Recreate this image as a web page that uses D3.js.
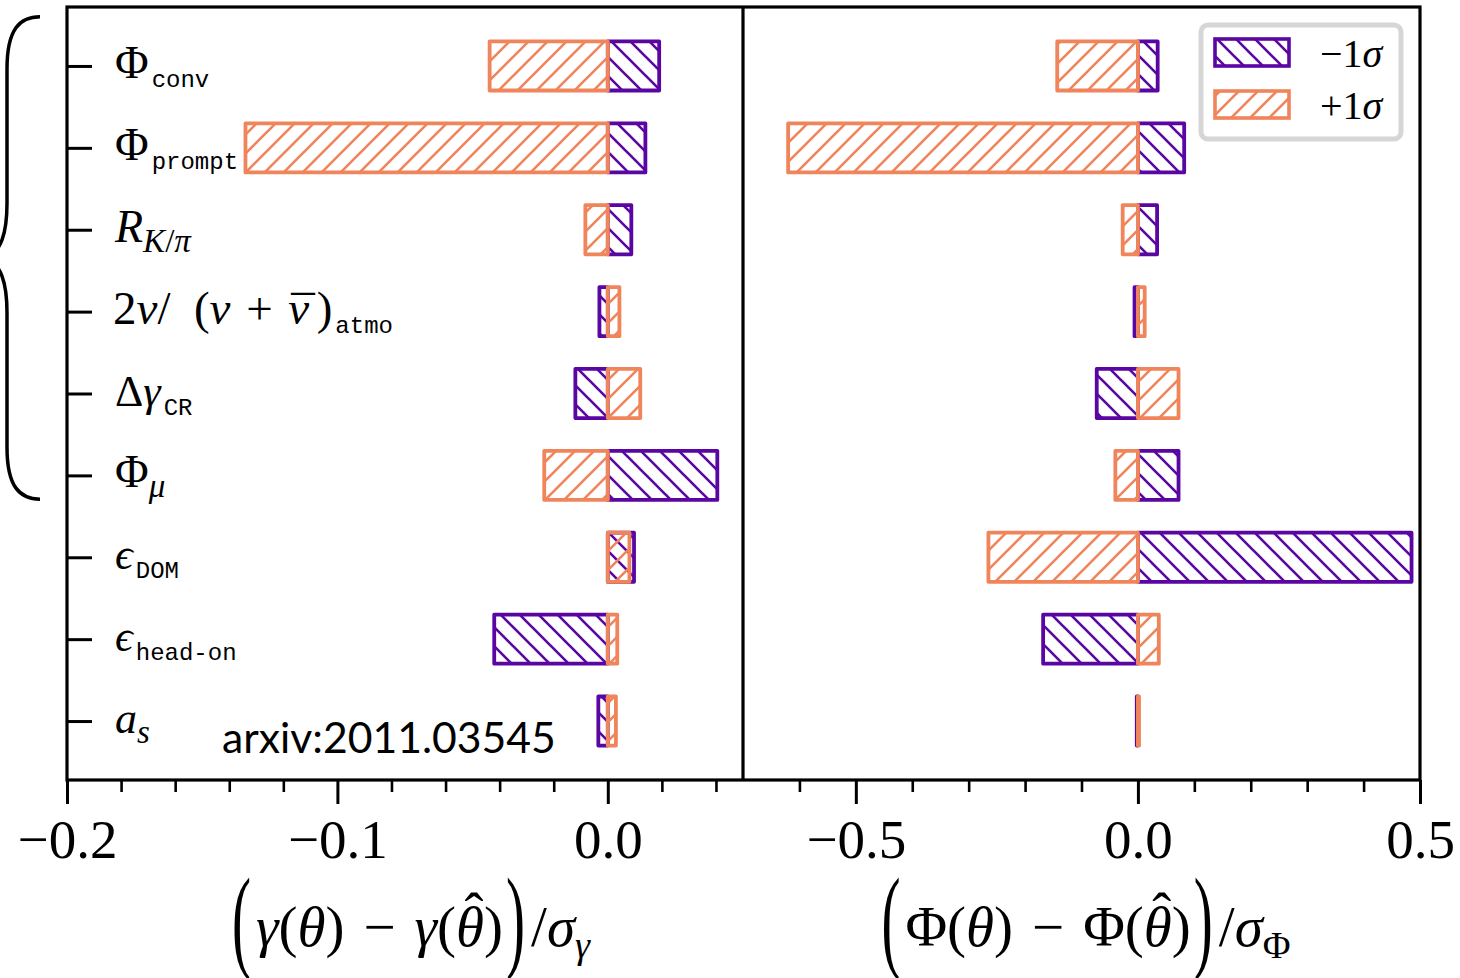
<!DOCTYPE html>
<html>
<head>
<meta charset="utf-8">
<script src="https://cdn.jsdelivr.net/npm/d3@7"></script>
<style>
  body { margin: 0; background: #fff; }
</style>
</head>
<body>
<div id="here"></div>
<script>
// nuisance parameters, "main|subscript"  ("~" marks a bar over the previous glyph)
var categories = ["Φ|conv", "Φ|prompt", "R|K/π", "2ν/\u2002(ν\u2004+\u2004ν~)|atmo", "Δγ|CR", "Φ|μ", "ϵ|DOM", "ϵ|head-on", "a|s"];
var seriesNames = ["−1σ", "+1σ"];

// left panel: (gamma(theta) - gamma(theta_hat)) / sigma_gamma
var gammaMinus = [0.019, 0.0139, 0.0087, -0.0031, -0.012, 0.0405, 0.0097, -0.042, -0.0035];
var gammaPlus  = [-0.0437, -0.134, -0.0083, 0.0043, 0.012, -0.0235, 0.008, 0.0035, 0.003];
// right panel: (Phi(theta) - Phi(theta_hat)) / sigma_Phi
var phiMinus = [0.035, 0.082, 0.034, -0.006, -0.073, 0.072, 0.485, -0.168, -0.002];
var phiPlus  = [-0.143, -0.62, -0.027, 0.012, 0.072, -0.040, -0.265, 0.037, 0.002];

var gammaMajor = [-0.2, -0.1, 0.0];
var gammaMinor = [-0.18, -0.16, -0.14, -0.12, -0.08, -0.06, -0.04, -0.02, 0.02, 0.04];
var phiMajor = [-0.5, 0.0, 0.5];
var phiMinor = [-0.6, -0.4, -0.3, -0.2, -0.1, 0.1, 0.2, 0.3, 0.4];

var w = 1460, h = 978;
var pTop = 7, pBottom = 780, pLeft = 67, pMid = 743, pRight = 1420;
var purple = "#5a06a2", orange = "#f0845a";
var serif = "'Liberation Serif', 'Times New Roman', serif";
var mono = "'Liberation Mono', 'DejaVu Sans Mono', monospace";

var svg = d3.select("#here").append("svg")
  .attr("width", w)
  .attr("height", h)
  .style("background", "#fff");

var y = d3.scaleLinear().domain([-0.72, categories.length - 1 + 0.72]).range([pTop, pBottom]);
var xG = d3.scaleLinear().domain([-0.2, 0.05]).range([pLeft, pMid]);
var xP = d3.scaleLinear().domain([-0.7, 0.5]).range([pMid, pRight]);
var barH = y(0.3) - y(-0.3);

// hatches
var defs = svg.append("defs");
var hs = 19;
defs.append("pattern").attr("id", "hatchMinus")
  .attr("patternUnits", "userSpaceOnUse").attr("width", hs).attr("height", hs)
  .append("path")
  .attr("d", "M" + (-hs/4) + "," + (3*hs/4) + "L" + (hs/4) + "," + (5*hs/4) +
             "M0,0L" + hs + "," + hs +
             "M" + (3*hs/4) + "," + (-hs/4) + "L" + (5*hs/4) + "," + (hs/4))
  .attr("stroke", purple).attr("stroke-width", 2.6);
defs.append("pattern").attr("id", "hatchPlus")
  .attr("patternUnits", "userSpaceOnUse").attr("width", hs).attr("height", hs)
  .append("path")
  .attr("d", "M" + (-hs/4) + "," + (hs/4) + "L" + (hs/4) + "," + (-hs/4) +
             "M0," + hs + "L" + hs + ",0" +
             "M" + (3*hs/4) + "," + (5*hs/4) + "L" + (5*hs/4) + "," + (3*hs/4))
  .attr("stroke", orange).attr("stroke-width", 2.6);

// rich math-ish text: letters italic, the rest upright
function isItalic(ch) {
  return /[A-Za-zα-ωϵθ]/.test(ch);
}
function runs(str) {
  var out = [];
  Array.from(str).forEach(function(ch) {
    var it = isItalic(ch);
    if (out.length && out[out.length-1].italic === it) out[out.length-1].t += ch;
    else out.push({t: ch, italic: it});
  });
  return out;
}
function rich(g, x, yb, segs, anchor) {
  var t = g.append("text").attr("x", x).attr("y", yb)
    .attr("text-anchor", anchor || "start").attr("fill", "#000");
  var cur = 0;
  segs.forEach(function(s) {
    var parts = (s.mono || s.upright) ? [{t: s.t, italic: false}] : runs(s.t);
    parts.forEach(function(p, k) {
      var off = s.dy || 0;
      var ts = t.append("tspan")
        .attr("font-size", s.size + "px")
        .attr("font-family", s.mono ? mono : serif)
        .attr("font-style", p.italic ? "italic" : "normal")
        .attr("dy", off - cur)
        .text(p.t);
      if (k === 0 && s.dx) ts.attr("dx", s.dx);
      cur = off;
    });
  });
  return t;
}

// bars
function drawBars(x, values, pattern, color) {
  svg.append("g").selectAll("rect")
    .data(values)
    .enter().append("rect")
    .attr("x", function(d) { return x(Math.min(0, d)); })
    .attr("width", function(d) { return Math.abs(x(d) - x(0)); })
    .attr("y", function(d, i) { return y(i) - barH/2; })
    .attr("height", barH)
    .attr("fill", "url(#" + pattern + ")")
    .attr("stroke", color)
    .attr("stroke-width", 3.8)
    .attr("stroke-linejoin", "round");
}
drawBars(xG, gammaMinus, "hatchMinus", purple);
drawBars(xG, gammaPlus, "hatchPlus", orange);
drawBars(xP, phiMinus, "hatchMinus", purple);
drawBars(xP, phiPlus, "hatchPlus", orange);

// frame
svg.append("rect").attr("x", pLeft).attr("y", pTop)
  .attr("width", pRight - pLeft).attr("height", pBottom - pTop)
  .attr("fill", "none").attr("stroke", "#000").attr("stroke-width", 3.2);
svg.append("line").attr("x1", pMid).attr("x2", pMid).attr("y1", pTop).attr("y2", pBottom)
  .attr("stroke", "#000").attr("stroke-width", 3.2);

// x axes
function xAxis(x, major, minor) {
  var gMin = svg.append("g").attr("transform", "translate(0," + pBottom + ")")
    .call(d3.axisBottom(x).tickValues(minor).tickSize(12).tickFormat(""));
  gMin.select(".domain").remove();
  gMin.selectAll("line").attr("stroke-width", 2.6);
  var gMaj = svg.append("g").attr("transform", "translate(0," + pBottom + ")")
    .call(d3.axisBottom(x).tickValues(major).tickSize(24).tickPadding(15).tickFormat(d3.format(".1f")));
  gMaj.select(".domain").remove();
  gMaj.selectAll("line").attr("stroke-width", 3);
  gMaj.selectAll("text").attr("font-family", serif).attr("font-size", "55px").attr("fill", "#000");
}
xAxis(xG, gammaMajor, gammaMinor);
xAxis(xP, phiMajor, phiMinor);

// y axis: inward ticks, labels inside the plot
var gy = svg.append("g").attr("transform", "translate(" + pLeft + ",0)")
  .call(d3.axisLeft(y).tickValues(d3.range(categories.length)).tickSizeInner(-25).tickSizeOuter(0).tickFormat(""));
gy.select(".domain").remove();
gy.selectAll("line").attr("stroke-width", 3);

categories.forEach(function(c, i) {
  var p = c.split("|");
  var sub = p[1];
  var isMono = /^[A-Za-z-]{2,}$/.test(sub);
  var segs = [];
  var pieces = p[0].split("~");
  var long = pieces.length > 1;
  var ms = long ? 47 : 44;
  pieces.forEach(function(piece, k) {
    if (k > 0) {
      segs.push({t: "¯", size: ms, upright: true, dx: -18, dy: 4});
      segs.push({t: "", size: ms, dx: 2});
    }
    if (piece) segs.push({t: piece, size: k === 0 && /^[RΦΔ]$/.test(piece) ? 46 : ms, dx: k > 0 ? 2 : 0});
  });
  segs.push(isMono ? {t: sub, size: 24, mono: true, dy: 9, dx: 3} : {t: sub, size: 33, dy: 10});
  rich(svg, long ? 113 : 115, y(i) + 12, segs);
});

// brace over the atmospheric flux parameters (rows 0-5)
var bt = y(-0.6), bb = y(5.29), bm = (bt + bb) / 2;
svg.append("path")
  .attr("d", "M40," + bt + "C20," + bt + " 7," + (bt+12) + " 7," + (bt+52) +
             "L7," + (bm-55) + "C7," + (bm-22) + " 0," + (bm-8) + " -12," + bm +
             "C0," + (bm+8) + " 7," + (bm+22) + " 7," + (bm+55) +
             "L7," + (bb-52) + "C7," + (bb-12) + " 20," + bb + " 40," + bb)
  .attr("fill", "none").attr("stroke", "#000").attr("stroke-width", 3.5);

// axis titles: pieces laid out by measuring, tall thin parens, hat over theta
function title(cx, fn, sub) {
  var base = 946, fs = 57;
  var pieces = [
    {t: "(", size: fs, sy: 2.0, dy: 11, gap: 5},
    {t: fn + "(θ)\u2004−\u2004" + fn + "("},
    {t: "θ"},
    {t: "ˆ", over: true, dy: -14, shift: 4},
    {t: ")"},
    {t: ")", sy: 2.0, dy: 11, gap: 6, pre: 3},
    {t: "/σ"},
    {t: sub, size: 38, dy: 12}
  ];
  var g = svg.append("g");
  var cursor = 0, prev = null;
  pieces.forEach(function(pc) {
    var size = pc.size || fs;
    var t = g.append("text").attr("fill", "#000");
    var parts = pc.over ? [{t: pc.t, italic: false}] : runs(pc.t);
    parts.forEach(function(p) {
      t.append("tspan").attr("font-family", serif).attr("font-size", size + "px")
        .attr("font-style", p.italic ? "italic" : "normal").text(p.t);
    });
    var tw = t.node().getComputedTextLength();
    var x;
    if (pc.over) {
      x = prev.x + prev.w / 2 - tw / 2 + (pc.shift || 0);
    } else {
      cursor += pc.pre || 0;
      x = cursor;
      cursor += tw + (pc.gap || 0);
      prev = {x: x, w: tw};
    }
    t.attr("transform", "translate(" + x + "," + (base + (pc.dy || 0)) + ")" +
      (pc.sy ? " scale(1," + pc.sy + ")" : ""));
  });
  g.attr("transform", "translate(" + (cx - cursor / 2) + ",0)");
}
title(411, "γ", "γ");
title(1086, "Φ", "Φ");

// legend
var lg = svg.append("g");
lg.append("rect").attr("x", 1201).attr("y", 25).attr("width", 200).attr("height", 114)
  .attr("rx", 7).attr("fill", "#fff").attr("stroke", "#d6d6d6").attr("stroke-width", 5);
[["hatchMinus", purple], ["hatchPlus", orange]].forEach(function(s, i) {
  var yy = 39 + i * 52;
  lg.append("rect").attr("x", 1215).attr("y", yy).attr("width", 74).attr("height", 27)
    .attr("fill", "url(#" + s[0] + ")").attr("stroke", s[1]).attr("stroke-width", 3.6);
  rich(lg, 1320, yy + 28, [{t: seriesNames[i], size: 40}]);
});

// source note
var note = svg.append("text").attr("x", 222).attr("y", 753)
  .attr("font-family", "Lato, 'Open Sans', sans-serif").attr("font-size", "41px")
  .attr("fill", "#000").text("arxiv:2011.03545");
var nl = note.node().getComputedTextLength();
note.attr("font-size", (41 * 334 / nl) + "px");
</script>
</body>
</html>
